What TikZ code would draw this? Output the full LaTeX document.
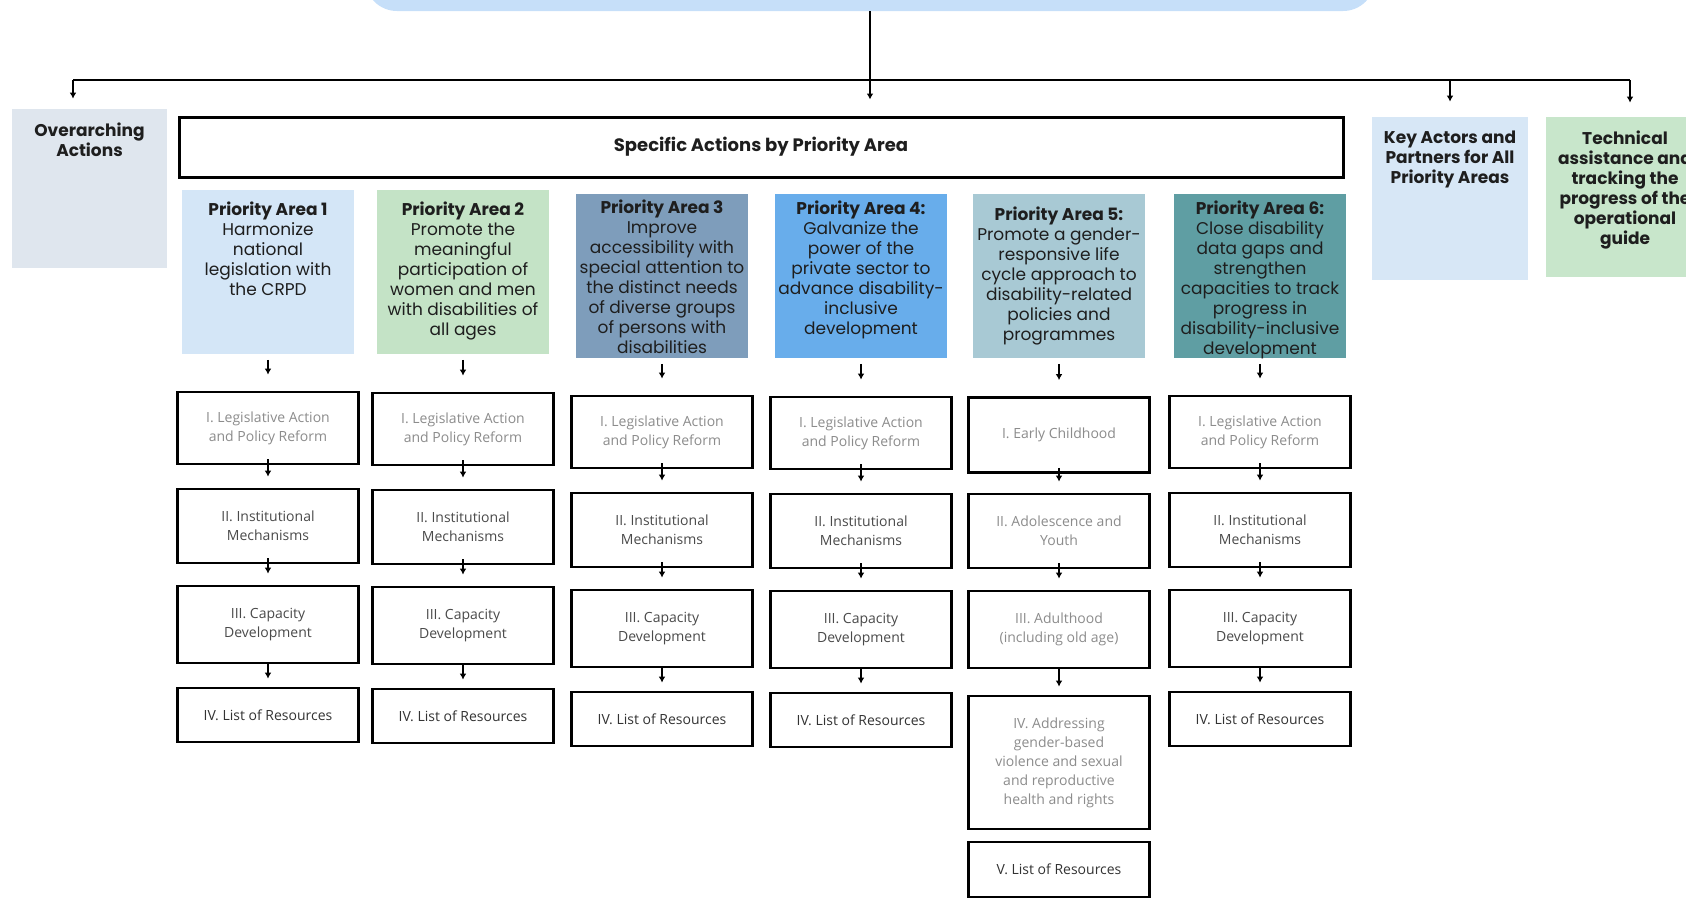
\documentclass[tikz,border=0pt]{standalone}
\usepackage{fontspec}
\setmainfont{Poppins}
\newfontfamily\subfont{Open Sans}
\usepackage{xcolor}
\usetikzlibrary{arrows.meta,positioning}
\definecolor{topblue}{HTML}{C6DFF9}
\definecolor{overfill}{HTML}{DFE6EE}
\definecolor{keyfill}{HTML}{D7E7F6}
\definecolor{techfill}{HTML}{C8E6CB}
\definecolor{pafill1}{HTML}{D4E6F7}
\definecolor{pafill2}{HTML}{C4E3C6}
\definecolor{pafill3}{HTML}{7E9DBB}
\definecolor{pafill4}{HTML}{68ADEB}
\definecolor{pafill5}{HTML}{A8C9D4}
\definecolor{pafill6}{HTML}{5F9EA3}
\definecolor{ink}{HTML}{1E1E1E}
\definecolor{lgrey}{HTML}{8C8C8C}
\definecolor{mgrey}{HTML}{4A4A4A}
\definecolor{dgrey}{HTML}{333333}

\begin{document}
\begin{tikzpicture}[x=0.5pt,y=-0.5pt,>={Latex[length=3pt,width=3.4pt]},
conn/.style={line width=0.8pt,->},
fillbox/.style={inner sep=0pt,minimum width=86pt,minimum height=82pt},
sidebox/.style={inner sep=0pt,minimum width=78pt,minimum height=81.5pt},
head/.style={align=center,inner sep=0pt,font=\fontsize{8.5}{10}\selectfont,text=ink},
boldhead/.style={head,font=\bfseries\fontsize{8.5}{10}\selectfont},
sub/.style={draw=black,line width=1.4pt,fill=white,inner sep=2pt,minimum width=90.5pt,align=center,font=\subfont\fontsize{7}{9.5}\selectfont}]
\useasboundingbox (0,0) rectangle (1686,902);
\clip (0,0) rectangle (1686,902);
% top row
\node[fill=topblue,rounded corners=16pt,inner sep=0pt,minimum width=505pt,minimum height=46pt] (goal) at (870,-35) {};
\node[sidebox,fill=overfill,minimum width=77.5pt,minimum height=79.5pt] (over) at (89.5,188.5) {};
\node[boldhead,below=7pt of over.north] (overt) {Overarching\\Actions};
\node[draw=black,line width=1.5pt,inner sep=0pt,minimum width=582pt,minimum height=30pt,font=\bfseries\fontsize{9}{10}\selectfont,text=ink] (spec) at (761,147) {Specific Actions by Priority Area};
\node[sidebox,fill=keyfill] (key) at (1450,198.5) {};
\node[boldhead,below=7pt of key.north] (keyt) {Key Actors and\\Partners for All\\Priority Areas};
\node[sidebox,fill=techfill,minimum width=84pt,minimum height=80pt] (tech) at (1630,197) {};
\node[boldhead,below=7pt of tech.north,xshift=-2.5pt] (techt) {Technical\\assistance and\\tracking the\\progress of the\\operational\\guide};
\coordinate (hl) at (73,80);
\coordinate (hr) at (1630,80);
\draw[line width=0.8pt] (hl) -- (hr);
\draw[conn] (goal.south) -- ([yshift=8pt]goal.south |- spec.north);
\draw[conn] (hl) -- ([yshift=5pt]hl |- over.north);
\draw[conn] (hl -| key.north) -- ([yshift=7.5pt]key.north);
\draw[conn] (hr) -- ([yshift=7pt]tech.north);
% priority areas
\foreach \c/\cx/\ty in {1/268/190,2/463/190,3/662/194,4/861/194,5/1059/194,6/1260/194}
  \node[fillbox,fill=pafill\c,anchor=north] (pa\c) at (\cx,\ty) {};
\node[head,below=5.5pt of pa1.north] (pa1t) {\textbf{Priority Area 1}\\Harmonize\\national\\legislation with\\the CRPD};
\node[head,below=5.5pt of pa2.north] (pa2t) {\textbf{Priority Area 2}\\Promote the\\meaningful\\participation of\\women and men\\with disabilities of\\all ages};
\node[head,below=2.5pt of pa3.north] (pa3t) {\textbf{Priority Area 3}\\Improve\\accessibility with\\special attention to\\the distinct needs\\of diverse groups\\of persons with\\disabilities};
\node[head,below=3pt of pa4.north] (pa4t) {\textbf{Priority Area 4:}\\Galvanize the\\power of the\\private sector to\\advance disability-\\inclusive\\development};
\node[head,below=6pt of pa5.north] (pa5t) {\textbf{Priority Area 5:}\\Promote a gender-\\responsive life\\cycle approach to\\disability-related\\policies and\\programmes};
\node[head,below=3pt of pa6.north] (pa6t) {\textbf{Priority Area 6:}\\Close disability\\data gaps and\\strengthen\\capacities to track\\progress in\\disability-inclusive\\development};
% action lists
\foreach \c/\cx/\dy in {1/268/0,2/463/1,3/662/4,4/861/5,6/1260/4}{
  \node[sub,text=lgrey,minimum height=36pt] (la\c) at (\cx,428+\dy) {I. Legislative Action\\and Policy Reform};
  \node[sub,text=mgrey,minimum height=37pt] (in\c) at (\cx,526+\dy) {II. Institutional\\Mechanisms};
  \node[sub,text=mgrey,minimum height=38.5pt] (ca\c) at (\cx,624.5+\dy) {III. Capacity\\Development};
  \node[sub,text=dgrey,minimum height=27pt] (re\c) at (\cx,715+\dy) {IV. List of Resources};
  \draw[conn] ([yshift=-2.5pt]pa\c.south) -- ([yshift=8pt]la\c.north);
  \draw[conn] ([yshift=3pt]la\c.south) -- ([yshift=5.5pt]in\c.north);
  \draw[conn] ([yshift=3pt]in\c.south) -- ([yshift=5.5pt]ca\c.north);
  \draw[conn] ([yshift=1pt]ca\c.south) -- ([yshift=4pt]re\c.north);
}
\node[sub,text=lgrey,minimum height=37.5pt] (ec5) at (1059,435) {I. Early Childhood};
\node[sub,text=lgrey,minimum height=37pt] (ay5) at (1059,531) {II. Adolescence and\\Youth};
\node[sub,text=lgrey,minimum height=38.5pt] (ad5) at (1059,629.5) {III. Adulthood\\(including old age)};
\node[sub,text=lgrey,minimum height=66.5pt] (gb5) at (1059,762.5) {IV. Addressing\\gender-based\\violence and sexual\\and reproductive\\health and rights};
\node[sub,text=dgrey,minimum height=27.5pt] (re5) at (1059,869.5) {V. List of Resources};
\draw[conn] ([yshift=-2.5pt]pa5.south) -- ([yshift=8pt]ec5.north);
\draw[conn] ([yshift=3pt]ec5.south) -- ([yshift=5.5pt]ay5.north);
\draw[conn] ([yshift=3pt]ay5.south) -- ([yshift=5.5pt]ad5.north);
\draw[conn] ([yshift=1pt]ad5.south) -- ([yshift=4pt]gb5.north);
\end{tikzpicture}
\end{document}
